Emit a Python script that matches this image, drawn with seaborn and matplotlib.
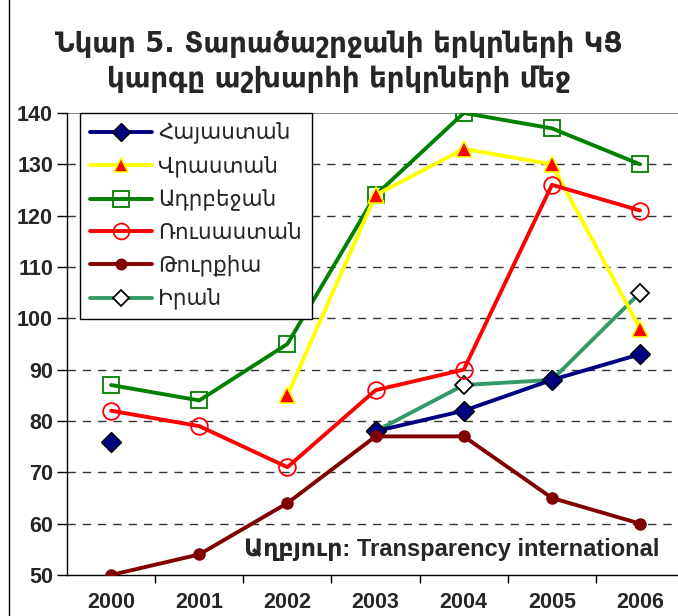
import numpy as np
import pandas as pd
import matplotlib
matplotlib.use("Agg")
import matplotlib.pyplot as plt
import seaborn as sns
from matplotlib.lines import Line2D

years = [2000, 2001, 2002, 2003, 2004, 2005, 2006]
year_labels = ["2000", "2001", "2002", "2003", "2004", "2005", "2006"]

armenia = [76, np.nan, np.nan, 78, 82, 88, 93]
georgia = [np.nan, np.nan, 85, 124, 133, 130, 98]
azerbaijan = [87, 84, 95, 124, 140, 137, 130]
russia = [82, 79, 71, 86, 90, 126, 121]
turkey = [50, 54, 64, 77, 77, 65, 60]
iran = [np.nan, np.nan, np.nan, 78, 87, 88, 105]

names = ["Հայաստան", "Վրաստան", "Ադրբեջան", "Ռուսաստան", "Թուրքիա", "Իրան"]
series = [armenia, georgia, azerbaijan, russia, turkey, iran]

title = "Նկար 5. Տարածաշրջանի երկրների ԿՑ\nկարգը աշխարհի երկրների մեջ"
source = "Աղբյուր: Transparency international"

styles = [
    dict(color="#000080", marker="D", ms=10, mfc="#000080", mec="#000000", mew=1.0, z=4),
    dict(color="#FFFF00", marker="^", ms=11, mfc="#FF0000", mec="#FFFF00", mew=1.2, z=4),
    dict(color="#008000", marker="s", ms=12, mfc="none", mec="#008000", mew=1.3, z=3),
    dict(color="#FF0000", marker="o", ms=12, mfc="none", mec="#FF0000", mew=1.3, z=4),
    dict(color="#800000", marker="o", ms=8, mfc="#800000", mec="#800000", mew=1.0, z=5),
    dict(color="#339966", marker="D", ms=9, mfc="white", mec="#000000", mew=1.3, z=3),
]

sns.set_theme(style="white")
plt.rcParams["font.family"] = ["DejaVu Sans"]

fig = plt.figure(figsize=(6.78, 6.16), dpi=100)
ax = fig.add_axes([0.0988, 0.0666, 0.9012, 0.75])

for name, vals, st in zip(names, series, styles):
    df = pd.DataFrame({"year": years, "value": vals})
    df["seg"] = df["value"].isna().cumsum()
    df = df.dropna()
    sns.lineplot(data=df, x="year", y="value", units="seg", estimator=None,
                 ax=ax, color=st["color"], lw=2.8, marker=st["marker"],
                 markersize=st["ms"], markerfacecolor=st["mfc"],
                 markeredgecolor=st["mec"], markeredgewidth=st["mew"],
                 legend=False, zorder=st["z"])

ax.set_xlim(1999.5, 2006.43)
ax.set_ylim(50, 140)
ax.set_yticks(range(50, 141, 10))
ax.set_xticks(years)
ax.set_xticklabels(year_labels)
ax.set_xticks([y + 0.5 for y in years[:-1]], minor=True)
ax.set_xlabel("")
ax.set_ylabel("")

for v in [60, 70, 80, 90, 100, 110, 120, 130]:
    ax.axhline(v, color="#333333", lw=1.0, ls=(0, (6, 5)), zorder=1)
ax.axhline(140, color="#888888", lw=1.5, zorder=1)

for s in ["top", "right"]:
    ax.spines[s].set_visible(False)
for s in ["left", "bottom"]:
    ax.spines[s].set_color("black")
    ax.spines[s].set_linewidth(1.0)

ax.tick_params(axis="y", which="major", direction="out", length=7, width=1, color="black",
               left=True, labelsize=15.5, pad=3)
ax.tick_params(axis="x", which="major", length=0, labelsize=15.5, pad=12)
ax.tick_params(axis="x", which="minor", direction="out", length=6, width=1, color="black", bottom=True)
for lab in ax.get_xticklabels() + ax.get_yticklabels():
    lab.set_fontweight("bold")
    lab.set_family(["Liberation Sans", "DejaVu Sans"])

handles = []
for name, st in zip(names, styles):
    handles.append(Line2D([0], [0], color=st["color"], lw=2.8, marker=st["marker"],
                          markersize=st["ms"] * 0.95, markerfacecolor=st["mfc"],
                          markeredgecolor=st["mec"], markeredgewidth=st["mew"], label=name))
leg = ax.legend(handles=handles, loc="upper left", bbox_to_anchor=(0.021, 1.0),
                borderaxespad=0, frameon=True, fancybox=False, edgecolor="black",
                framealpha=1, fontsize=15.5, handlelength=2.9, labelspacing=0.55,
                borderpad=0.45, handletextpad=0.3)
leg.get_frame().set_linewidth(1.0)
leg.set_zorder(6)

ax.text(0.97, 0.055, source, transform=ax.transAxes, ha="right", va="center",
        fontsize=17, fontweight="bold", family=["Liberation Sans", "DejaVu Sans"], zorder=4)

fig.text(0.50, 0.900, title, ha="center", va="center", fontsize=19.8, fontweight="bold",
         linespacing=1.3)

fig.add_artist(Line2D([0.013, 0.013], [0, 1], transform=fig.transFigure, color="black", lw=1.0))

fig.savefig("out.png", dpi=100)
